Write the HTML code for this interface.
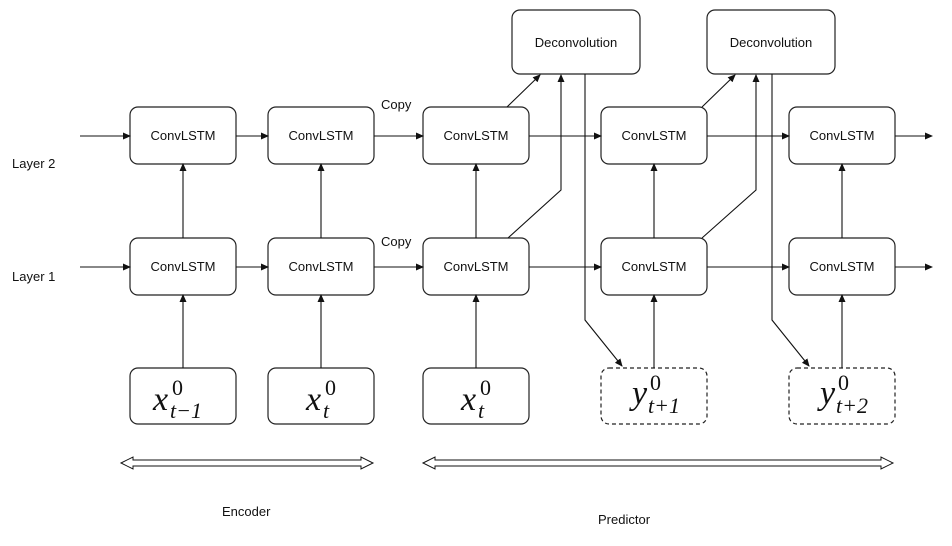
<!DOCTYPE html>
<html><head><style>
body{margin:0;background:#fff}
svg text{font-family:"Liberation Sans",sans-serif;fill:#111}
svg .m text{font-family:"Liberation Serif",serif;font-style:italic}
svg .m text.u{font-style:normal}
</style></head><body>
<svg width="952" height="541" viewBox="0 0 952 541" xmlns="http://www.w3.org/2000/svg">
<defs><marker id="a" markerWidth="8" markerHeight="8" refX="7" refY="4" orient="auto" markerUnits="userSpaceOnUse"><path d="M0,0.5 L8,4 L0,7.5 z" fill="#111"/></marker></defs>
<g fill="#fff" stroke="#222" stroke-width="1.2">
<rect x="512" y="10" width="128" height="64" rx="8"/>
<rect x="707" y="10" width="128" height="64" rx="8"/>
<rect x="130" y="107" width="106" height="57" rx="8"/>
<rect x="268" y="107" width="106" height="57" rx="8"/>
<rect x="423" y="107" width="106" height="57" rx="8"/>
<rect x="601" y="107" width="106" height="57" rx="8"/>
<rect x="789" y="107" width="106" height="57" rx="8"/>
<rect x="130" y="238" width="106" height="57" rx="8"/>
<rect x="268" y="238" width="106" height="57" rx="8"/>
<rect x="423" y="238" width="106" height="57" rx="8"/>
<rect x="601" y="238" width="106" height="57" rx="8"/>
<rect x="789" y="238" width="106" height="57" rx="8"/>
<rect x="130" y="368" width="106" height="56" rx="8"/>
<rect x="268" y="368" width="106" height="56" rx="8"/>
<rect x="423" y="368" width="106" height="56" rx="8"/>
<rect x="601" y="368" width="106" height="56" rx="8" stroke-dasharray="4,3"/>
<rect x="789" y="368" width="106" height="56" rx="8" stroke-dasharray="4,3"/>
</g>
<g stroke="#111" stroke-width="1.1" fill="none" marker-end="url(#a)">
<line x1="80" y1="136" x2="130" y2="136"/><line x1="236" y1="136" x2="268" y2="136"/><line x1="374" y1="136" x2="423" y2="136"/><line x1="529" y1="136" x2="601" y2="136"/><line x1="707" y1="136" x2="789" y2="136"/><line x1="895" y1="136" x2="932" y2="136"/>
<line x1="80" y1="267" x2="130" y2="267"/><line x1="236" y1="267" x2="268" y2="267"/><line x1="374" y1="267" x2="423" y2="267"/><line x1="529" y1="267" x2="601" y2="267"/><line x1="707" y1="267" x2="789" y2="267"/><line x1="895" y1="267" x2="932" y2="267"/>
<line x1="183" y1="238" x2="183" y2="164"/><line x1="321" y1="238" x2="321" y2="164"/><line x1="476" y1="238" x2="476" y2="164"/><line x1="654" y1="238" x2="654" y2="164"/><line x1="842" y1="238" x2="842" y2="164"/>
<line x1="183" y1="368" x2="183" y2="295"/><line x1="321" y1="368" x2="321" y2="295"/><line x1="476" y1="368" x2="476" y2="295"/><line x1="654" y1="368" x2="654" y2="295"/><line x1="842" y1="368" x2="842" y2="295"/>
<line x1="507" y1="107" x2="540" y2="75"/><polyline points="508,238 561,190 561,75"/><polyline points="585,74 585,320 622,366"/>
<line x1="702" y1="107" x2="735" y2="75"/><polyline points="702,238 756,190 756,75"/><polyline points="772,74 772,320 809,366"/>
</g>
<g fill="#fff" stroke="#111" stroke-width="1">
<path d="M121,463 l12,-6 v3 h228 v-3 l12,6 l-12,6 v-3 h-228 v3 z"/>
<path d="M423,463 l12,-6 v3 h446 v-3 l12,6 l-12,6 v-3 h-446 v3 z"/>
</g>
<g font-size="13" text-anchor="middle">
<text x="576" y="47">Deconvolution</text><text x="771" y="47">Deconvolution</text>
<text x="183" y="140">ConvLSTM</text><text x="321" y="140">ConvLSTM</text><text x="476" y="140">ConvLSTM</text><text x="654" y="140">ConvLSTM</text><text x="842" y="140">ConvLSTM</text>
<text x="183" y="271">ConvLSTM</text><text x="321" y="271">ConvLSTM</text><text x="476" y="271">ConvLSTM</text><text x="654" y="271">ConvLSTM</text><text x="842" y="271">ConvLSTM</text>
</g>
<g font-size="13"><text x="12" y="168">Layer 2</text><text x="12" y="281">Layer 1</text><text x="381" y="109">Copy</text><text x="381" y="246">Copy</text><text x="222" y="516">Encoder</text><text x="598" y="524">Predictor</text></g>
<g class="m">
<text x="153" y="410" font-size="34">x</text><text class="u" x="172" y="395" font-size="22">0</text><text x="170" y="418" font-size="22">t−1</text>
<text x="306" y="410" font-size="34">x</text><text class="u" x="325" y="395" font-size="22">0</text><text x="323" y="418" font-size="22">t</text>
<text x="461" y="410" font-size="34">x</text><text class="u" x="480" y="395" font-size="22">0</text><text x="478" y="418" font-size="22">t</text>
<text x="632" y="404" font-size="34">y</text><text class="u" x="650" y="390" font-size="22">0</text><text x="648" y="413" font-size="22">t+1</text>
<text x="820" y="404" font-size="34">y</text><text class="u" x="838" y="390" font-size="22">0</text><text x="836" y="413" font-size="22">t+2</text>
</g>
</svg>
</body></html>
